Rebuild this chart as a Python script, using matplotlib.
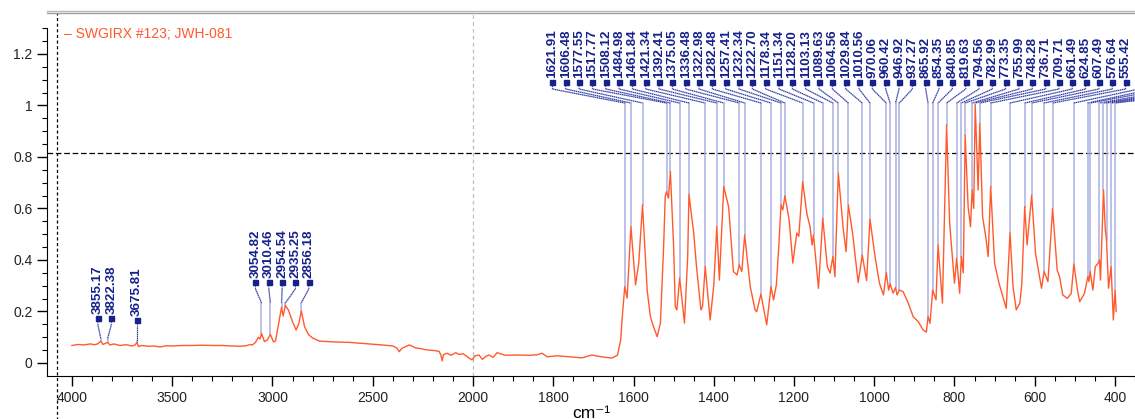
import matplotlib
matplotlib.use("Agg")
import matplotlib.pyplot as plt
import numpy as np

# ---- spectrum (wavenumber cm-1, absorbance) ----
wavenumber = [
    4000, 3970, 3940, 3910, 3885, 3870, 3855.17, 3845, 3822.38, 3810, 3790, 3760,
    3730, 3700, 3685, 3675.81, 3668, 3650, 3620, 3590, 3560, 3530, 3500, 3450,
    3400, 3350, 3300, 3250, 3200, 3160, 3130, 3110, 3100, 3085, 3070, 3062,
    3054.82, 3040, 3025, 3010.46, 2995, 2985, 2970, 2954.54, 2947, 2935.25, 2920, 2900,
    2882, 2868, 2856.18, 2840, 2820, 2800, 2766, 2700, 2617, 2550, 2453, 2400,
    2380, 2368, 2355, 2340, 2318, 2300, 2285, 2260, 2240, 2219, 2190, 2169,
    2160, 2154, 2148, 2130, 2110, 2086, 2070, 2050, 2035, 2020, 2005, 1995,
    1985, 1977, 1968, 1960, 1950, 1940, 1920, 1894, 1860, 1840, 1828, 1815,
    1790, 1760, 1728, 1704, 1680, 1654, 1640, 1632, 1628,
    1621.91, 1616, 1606.48, 1595, 1587, 1577.55, 1566, 1558, 1550, 1541, 1533, 1525,
    1521, 1517.77, 1513, 1508.12, 1500, 1496, 1492, 1484.98, 1473, 1465, 1461.84, 1450,
    1443, 1432, 1428, 1421.34, 1409, 1400, 1392.41, 1386, 1375.05, 1363, 1351, 1342,
    1336.48, 1330, 1322.98, 1309, 1297, 1293, 1282.48, 1268, 1257.41, 1251, 1244, 1238,
    1232.34, 1228, 1222.70, 1212, 1203, 1193, 1188, 1178.34, 1168, 1160, 1155, 1151.34,
    1139, 1128.20, 1117, 1110, 1103.13, 1098, 1089.63, 1077, 1070, 1064.56, 1054, 1040,
    1029.84, 1019, 1010.56, 998, 987, 977, 970.06, 964, 960.42, 953, 946.92, 943,
    937.27, 928, 915, 903, 890, 878, 870, 865.92, 861, 854.35, 846, 840.85,
    830, 819.63, 812, 800, 794.56, 787, 782.99, 778, 773.35, 766, 760, 755.99,
    752, 748.28, 741, 736.71, 730, 722, 716, 709.71, 700, 689, 671, 661.49,
    654, 646, 637, 632, 624.85, 619, 607.49, 598, 583, 576.64, 567, 555.42,
    544, 538, 530, 519, 509, 502.33, 494, 488, 476, 467.60, 465, 461.73,
    455, 449, 442, 438.51, 436, 428.52, 424, 421.04, 416, 409.63, 404, 399.62, 397,
]
absorbance = [
    0.068, 0.072, 0.070, 0.074, 0.071, 0.075, 0.085, 0.072, 0.080, 0.070, 0.074, 0.068,
    0.071, 0.066, 0.070, 0.080, 0.064, 0.068, 0.065, 0.066, 0.062, 0.067, 0.066, 0.068,
    0.068, 0.069, 0.068, 0.068, 0.066, 0.065, 0.067, 0.072, 0.070, 0.080, 0.100, 0.093,
    0.115, 0.083, 0.090, 0.111, 0.082, 0.085, 0.150, 0.217, 0.182, 0.223, 0.205, 0.160,
    0.128, 0.155, 0.202, 0.141, 0.110, 0.097, 0.085, 0.082, 0.080, 0.076, 0.070, 0.066,
    0.058, 0.044, 0.057, 0.062, 0.070, 0.064, 0.058, 0.056, 0.052, 0.050, 0.048, 0.045,
    0.030, 0.008, 0.032, 0.038, 0.030, 0.040, 0.033, 0.036, 0.028, 0.019, 0.012, 0.028,
    0.031, 0.014, 0.026, 0.031, 0.022, 0.040, 0.030, 0.031, 0.030, 0.032, 0.038, 0.024,
    0.028, 0.024, 0.020, 0.031, 0.024, 0.019, 0.030, 0.090, 0.180,
    0.296, 0.252, 0.529, 0.303, 0.388, 0.614, 0.283, 0.180, 0.140, 0.102, 0.155, 0.450,
    0.646, 0.665, 0.640, 0.743, 0.450, 0.219, 0.206, 0.330, 0.155, 0.413, 0.655, 0.505,
    0.374, 0.206, 0.220, 0.374, 0.167, 0.300, 0.529, 0.322, 0.685, 0.607, 0.355, 0.342,
    0.381, 0.355, 0.497, 0.296, 0.206, 0.199, 0.268, 0.148, 0.296, 0.245, 0.303, 0.450,
    0.614, 0.594, 0.649, 0.555, 0.388, 0.505, 0.492, 0.704, 0.580, 0.529, 0.458, 0.497,
    0.290, 0.562, 0.374, 0.349, 0.413, 0.335, 0.737, 0.516, 0.432, 0.614, 0.505, 0.312,
    0.419, 0.320, 0.558, 0.413, 0.310, 0.264, 0.351, 0.283, 0.307, 0.271, 0.293, 0.264,
    0.283, 0.277, 0.232, 0.180, 0.160, 0.128, 0.120, 0.180, 0.154, 0.283, 0.245, 0.458,
    0.232, 0.924, 0.543, 0.310, 0.407, 0.271, 0.413, 0.350, 0.885, 0.607, 0.529, 0.672,
    0.600, 1.002, 0.672, 0.930, 0.568, 0.490, 0.413, 0.685, 0.387, 0.310, 0.212, 0.505,
    0.296, 0.206, 0.233, 0.310, 0.607, 0.458, 0.652, 0.426, 0.290, 0.355, 0.316, 0.600,
    0.361, 0.335, 0.264, 0.251, 0.270, 0.384, 0.290, 0.238, 0.270, 0.335, 0.316, 0.355,
    0.283, 0.374, 0.387, 0.400, 0.322, 0.672, 0.516, 0.478, 0.290, 0.374, 0.167, 0.283, 0.200,
]

# picked peaks, grouped the way the labels are stacked
peaks_a = [3855.17, 3822.38]
peaks_b = [3675.81]
peaks_c = [3054.82, 3010.46, 2954.54, 2935.25, 2856.18]
peaks_top = [
    1621.91, 1606.48, 1577.55, 1517.77, 1508.12, 1484.98, 1461.84, 1421.34, 1392.41,
    1375.05, 1336.48, 1322.98, 1282.48, 1257.41, 1232.34, 1222.70, 1178.34, 1151.34,
    1128.20, 1103.13, 1089.63, 1064.56, 1029.84, 1010.56, 970.06, 960.42, 946.92,
    937.27, 865.92, 854.35, 840.85, 819.63, 794.56, 782.99, 773.35, 755.99, 748.28,
    736.71, 709.71, 661.49, 624.85, 607.49, 576.64, 555.42, 502.33, 467.60, 461.73,
    438.51, 428.52, 421.04, 409.63, 399.62,
]

sample_name = "SWGIRX #123; JWH-081"

SPEC_COLOR = "#ff5a2e"
LABEL_COLOR = "#16218a"
LEADER_LIGHT = "#aab0e2"
LABEL_STEP = 13.33   # px between stacked labels


def fwd(x):
    x = np.asarray(x, dtype=float)
    return np.where(x > 2000, 2000 + (x - 2000) / 2.0, x)


def inv(u):
    u = np.asarray(u, dtype=float)
    return np.where(u > 2000, 2000 + (u - 2000) * 2.0, u)


plt.rcParams["font.family"] = ["Liberation Sans", "DejaVu Sans"]

fig = plt.figure(figsize=(11.35, 4.19), dpi=100)
ax = fig.add_axes([47 / 1135, 43 / 419, 1088 / 1135, 363 / 419])
ax.set_xscale("function", functions=(fwd, inv))
ax.set_xlim(4124, 355)
ax.set_ylim(-0.0505, 1.359)

wn = np.array(wavenumber)
ab = np.array(absorbance)
ax.plot(wn, ab, color=SPEC_COLOR, lw=1.0, zorder=4)

# reference lines
ax.axhline(0.8155, color="black", lw=0.9, dashes=(4.5, 2.2), zorder=2)
ax.axvline(2000, color="#bdbdbd", lw=0.9, dashes=(3, 2.5), zorder=1)
ax.axvline(4075, ymin=-0.12, ymax=1, color="black", lw=0.9, dashes=(2.5, 2),
           clip_on=False, zorder=2)

# axes styling
ax.spines["right"].set_visible(False)
ax.spines["top"].set_color("#a0a0a0")
ax.spines["top"].set_linewidth(1.0)
ax.plot([0, 1], [1.006, 1.006], transform=ax.transAxes, color="#b8b8b8",
        lw=1.0, clip_on=False)
ax.spines["left"].set_bounds(-0.0505, 1.3)

xmaj = [4000, 3500, 3000, 2500, 2000, 1800, 1600, 1400, 1200, 1000, 800, 600, 400]
xmin = list(range(4000, 2000, -100)) + list(range(2000, 349, -50))
ax.set_xticks(xmaj)
ax.set_xticklabels([str(v) for v in xmaj])
ax.set_xticks(xmin, minor=True)
ax.set_yticks([0, 0.2, 0.4, 0.6, 0.8, 1.0, 1.2])
ax.set_yticklabels(["0", "0.2", "0.4", "0.6", "0.8", "1", "1.2"])
ax.set_yticks(np.arange(0, 1.31, 0.05), minor=True)
ax.tick_params(which="major", direction="out", length=7, width=1.0,
               labelsize=10, labelcolor="#222222")
ax.tick_params(which="minor", direction="out", length=3.5, width=0.8)
ax.set_xlabel("cm⁻¹", fontsize=12.5, labelpad=1)

ax.text(0.0156, 0.942, "– " + sample_name, transform=ax.transAxes,
        color=SPEC_COLOR, fontsize=10, va="center", ha="left")

# stacked peak labels with leader lines
to_disp = ax.transData.transform
to_data = ax.transData.inverted().transform
fig_w = fig.bbox.width
clusters = [
    (peaks_a, 0.175, -3.0),
    (peaks_b, 0.167, 0.0),
    (peaks_c, 0.315, -6.0),
    (peaks_top, 1.091, -72.3),
]
for peaks, y_mark, shift in clusters:
    peak_y = np.interp(peaks, wn[::-1], ab[::-1])
    pts = to_disp(np.column_stack([peaks, peak_y]))
    my = to_disp([[peaks[0], y_mark]])[0, 1]
    x0 = pts[0, 0] + shift
    for k, (pk, (px, py)) in enumerate(zip(peaks, pts)):
        mx = x0 + k * LABEL_STEP
        path = to_data([(mx, my), (mx, my - 7), (px, my - 21), (px, py)])
        ax.plot(path[2:, 0], path[2:, 1], color=LEADER_LIGHT, lw=1.1,
                zorder=3, clip_on=False)
        ax.plot(path[:3, 0], path[:3, 1], color=LABEL_COLOR, lw=0.7,
                ls=(0, (1, 1)), zorder=3, clip_on=False)
        ax.plot(path[1:3, 0], path[1:3, 1], color=LEADER_LIGHT, lw=1.0,
                zorder=2, clip_on=False)
        if mx > fig_w - 4:
            # label sits past the right edge of the page
            continue
        mk = to_data([(mx, my)])[0]
        ax.plot(mk[0], mk[1], "s", ms=3.6, color=LABEL_COLOR, zorder=5,
                clip_on=False)
        tp = to_data([(mx, my + 4)])[0]
        ax.text(tp[0], tp[1], f"{pk:.2f}", rotation=90, ha="center",
                va="bottom", color=LABEL_COLOR, fontsize=9.6,
                fontweight="bold", clip_on=False)

fig.savefig("out.png", dpi=100)
